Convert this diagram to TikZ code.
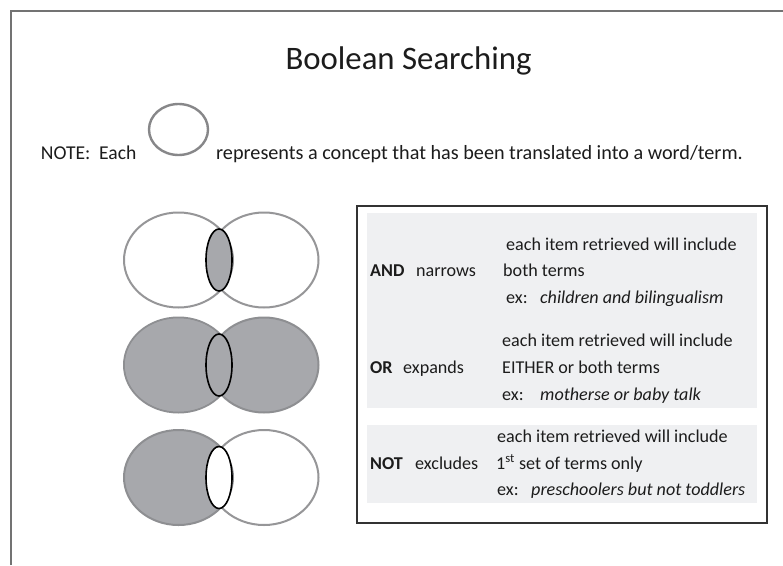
\documentclass[tikz,border=0pt]{standalone}
\usepackage{fontspec}
\setmainfont{Carlito}
\definecolor{venngray}{RGB}{167,168,172}
\definecolor{rimgray}{RGB}{150,150,152}
\definecolor{panelgray}{RGB}{239,240,242}
\definecolor{ink}{RGB}{28,28,28}
\definecolor{framegray}{RGB}{115,115,115}
\begin{document}
\begin{tikzpicture}[x=1pt,y=-1pt,
  txt/.style={anchor=base west, inner sep=0pt, text=ink, font=\fontsize{18.1}{20}\selectfont},
  note/.style={anchor=base west, inner sep=0pt, text=ink, font=\fontsize{19.6}{22}\selectfont},
  ring/.style={draw=rimgray, line width=2pt},
  fullring/.style={draw=venngray!85!black, line width=2pt},
  lensline/.style={draw=black, line width=1.6pt},
  panel/.style={fill=panelgray, draw=none}]
\useasboundingbox (0,0) rectangle (783,565);
\fill[white] (0,0) rectangle (783,565);

% slide frame, running off the page at right and bottom
\draw[framegray, line width=2pt] (11,565) -- (11,11) -- (783,11);

% title and note line
\node[anchor=base, inner sep=0pt, text=ink, font=\fontsize{32.8}{36}\selectfont] (title) at (408.5,69.3) {Boolean Searching};
\node[note] (noteA) at (40.7,159.3) {NOTE:\ \ Each};
\draw[ring, draw=rimgray!90!black, line width=2.4pt] (178.5,129.5) ellipse [x radius=29.5, y radius=25.5];
\node[note, font=\fontsize{20.2}{22}\selectfont] (noteB) at (216,159.3) {represents a concept that has been translated into a word/term.};

% ---- Venn rows: two sets and the overlap drawn as a narrow ellipse ----
\def\Lx{178.5}\def\Rx{264}\def\Ra{54.5}\def\Rb{47.5}
\def\Mx{219}\def\Ma{13}\def\Mb{31}
% AND: overlap shaded
\begin{scope}[shift={(0,260)}]
  \draw[ring] (\Lx,0) ellipse [x radius=\Ra, y radius=\Rb];
  \draw[ring] (\Rx,0) ellipse [x radius=\Ra, y radius=\Rb];
  \filldraw[fill=venngray, lensline] (\Mx,0) ellipse [x radius=\Ma, y radius=\Mb];
\end{scope}
% OR: both sets shaded
\begin{scope}[shift={(0,365)}]
  \filldraw[fill=venngray, fullring] (\Lx,0) ellipse [x radius=\Ra, y radius=\Rb];
  \filldraw[fill=venngray, fullring] (\Rx,0) ellipse [x radius=\Ra, y radius=\Rb];
  \fill[venngray] (\Lx,0) ellipse [x radius=\Ra-1, y radius=\Rb-1];
  \filldraw[fill=venngray, lensline] (\Mx,0) ellipse [x radius=\Ma, y radius=\Mb];
\end{scope}
% NOT: first set without the overlap
\begin{scope}[shift={(0,477.5)}]
  \filldraw[fill=venngray, fullring] (\Lx,0) ellipse [x radius=\Ra, y radius=\Rb];
  \draw[ring] (\Rx,0) ellipse [x radius=\Ra, y radius=\Rb];
  \filldraw[fill=white, lensline] (\Mx,0) ellipse [x radius=\Ma, y radius=\Mb];
\end{scope}

% ---- explanation box ----
\draw[draw=black!80, line width=1.5pt] (357,206) rectangle (767,523);
\path[panel] (367,213) rectangle (757,408);
\path[panel] (367,425) rectangle (757,503);

% AND
\node[txt] (andA) at (506,250) {each item retrieved will include};
\node[txt] (andK) at (370,276) {\textbf{AND}};
\node[txt] (andN) at (416,276) {narrows};
\node[txt] (andB) at (503,276) {both terms};
\node[txt] (andE) at (506,303) {ex:};
\node[txt] (andX) at (540,303) {\itshape children and bilingualism};
% OR
\node[txt] (orA) at (502,346) {each item retrieved will include};
\node[txt] (orK) at (370,373) {\textbf{OR}};
\node[txt] (orN) at (403,373) {expands};
\node[txt] (orB) at (502,373) {EITHER or both terms};
\node[txt] (orE) at (502,400) {ex:};
\node[txt] (orX) at (540,400) {\itshape motherse or baby talk};
% NOT
\node[txt] (notA) at (497,442) {each item retrieved will include};
\node[txt] (notK) at (370,469) {\textbf{NOT}};
\node[txt] (notN) at (415,469) {excludes};
\node[txt] (notB) at (496,469) {1\textsuperscript{st} set of terms only};
\node[txt] (notE) at (497,495) {ex:};
\node[txt] (notX) at (531,495) {\itshape preschoolers but not toddlers};
\end{tikzpicture}
\end{document}
